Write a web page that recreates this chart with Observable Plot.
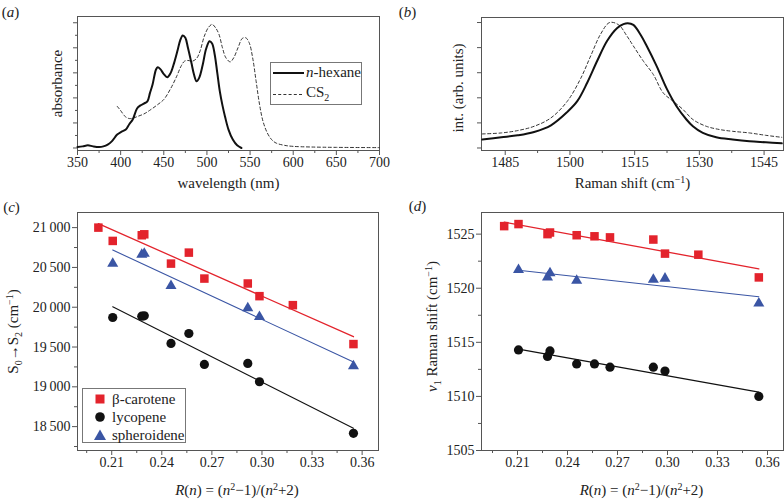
<!DOCTYPE html>
<html><head><meta charset="utf-8">
<script src="https://cdn.jsdelivr.net/npm/d3@7"></script>
<script src="https://cdn.jsdelivr.net/npm/@observablehq/plot@0.6"></script>
<style>
body{margin:0;background:#fff;}
#wrap{position:relative;width:784px;height:499px;font-family:"Liberation Serif","Times New Roman",serif;color:#222;overflow:hidden;background:#fff}
#wrap svg{position:absolute}
.legend{position:absolute;border:1px solid #777;background:#fff;font-size:15px;box-sizing:border-box}
.legend span{position:absolute;white-space:nowrap;line-height:15px}
</style></head><body><div id="wrap"></div>
<script>
// ---------- (a) absorption spectra ----------
const hexaneNm  = [350,356,362,368,375,380,385,390,396,401,406,410,414,419,423,427,431,434,437,441,443,446,450,454,458,462,466,469,472,475,478,482,485,488,491,495,499,503,506,509,512,515,518,521,525,530,535,540];
const hexaneAbs = [0.008,0.013,0.021,0.013,0.008,0.013,0.027,0.055,0.107,0.13,0.147,0.19,0.227,0.315,0.34,0.355,0.373,0.44,0.507,0.627,0.645,0.63,0.59,0.565,0.6,0.68,0.78,0.86,0.899,0.88,0.8,0.68,0.587,0.533,0.56,0.66,0.79,0.853,0.835,0.747,0.6,0.45,0.34,0.25,0.147,0.067,0.021,0.0];
const cs2Nm  = [396,400,405,410,415,420,427,435,443,450,458,465,470,474,478,483,488,492,497,502,506,510,514,518,522,527,531,536,541,545,549,553,557,561,565,570,575,580,590,600,620,650,700];
const cs2Abs = [0.333,0.299,0.253,0.235,0.24,0.253,0.272,0.307,0.347,0.387,0.475,0.573,0.653,0.693,0.699,0.693,0.715,0.773,0.893,0.965,0.987,0.96,0.907,0.8,0.72,0.688,0.72,0.8,0.875,0.88,0.84,0.72,0.533,0.347,0.213,0.12,0.067,0.04,0.021,0.013,0.008,0.005,0.003];
const wlTicks = [350,400,450,500,550,600,650,700];
const wlMinor = [375,425,475,525,575,625,675];
const absTicks = [0,0.2,0.4,0.6,0.8,1.0];
const absMinor = [0.1,0.3,0.5,0.7,0.9];
const solventNames = ["n-hexane","CS2"];

// ---------- (b) Raman spectra ----------
const ramanCm1  = [1479.7,1484.1,1487.9,1491.7,1495.6,1499.4,1501.7,1504.0,1506.3,1508.6,1510.9,1512.4,1513.4,1514.7,1516.3,1517.8,1520.1,1522.4,1524.7,1527.0,1528.5,1530.8,1533.9,1537.7,1541.6,1545.4,1549.1];
const ramanHex  = [0.067,0.085,0.101,0.128,0.181,0.288,0.373,0.52,0.693,0.853,0.955,0.987,0.995,0.981,0.907,0.813,0.653,0.475,0.333,0.227,0.173,0.12,0.085,0.067,0.053,0.045,0.037];
const ramanCm2  = [1479.7,1484.1,1487.9,1491.7,1495.6,1499.4,1502.5,1504.8,1507.1,1509.2,1511.3,1513.2,1514.7,1517.0,1519.3,1521.6,1523.9,1526.2,1528.5,1531.6,1534.7,1537.7,1541.6,1545.4,1549.1];
const ramanCS2  = [0.112,0.12,0.139,0.173,0.24,0.373,0.555,0.733,0.907,1.0,0.981,0.893,0.813,0.693,0.587,0.44,0.373,0.307,0.227,0.173,0.147,0.133,0.12,0.101,0.085];
const shiftTicks = [1485,1500,1515,1530,1545];
const shiftMinor = [1492.5,1507.5,1522.5,1537.5];
const intTicks = [0,0.2,0.4,0.6,0.8,1.0];

// ---------- (c),(d) solvent dependence ----------
const carotenoids = ["β-carotene","lycopene","spheroidene"];
const rBeta     = [0.202,0.2106,0.228,0.2295,0.2455,0.2562,0.2655,0.2915,0.2985,0.3185,0.3548];
const s02Beta   = [21000,20833,20904,20916,20548,20686,20360,20298,20139,20026,19537];
const nu1Beta   = [1525.74,1525.93,1525.0,1525.15,1524.9,1524.8,1524.7,1524.5,1523.2,1523.1,1521.0];
const rLyco     = [0.2106,0.228,0.2295,0.2455,0.2562,0.2655,0.2915,0.2985,0.3548];
const s02Lyco   = [19871,19888,19892,19545,19670,19281,19294,19064,18416];
const nu1Lyco   = [1514.3,1513.7,1514.2,1513.0,1513.0,1512.7,1512.7,1512.35,1510.0];
const rSpher    = [0.2106,0.228,0.2295,0.2455,0.2915,0.2985,0.3548];
const s02Spher  = [20548,20661,20674,20268,19990,19880,19260];
const nu1Spher  = [1521.7,1521.0,1521.4,1520.7,1520.8,1520.9,1518.6];
const rTicks = [0.21,0.24,0.27,0.30,0.33,0.36];
const rMinor = [0.195,0.225,0.255,0.285,0.315,0.345];
const s02Ticks = [18500,19000,19500,20000,20500,21000];
const s02Minor = [18250,18750,19250,19750,20250,20750];
const nu1Ticks = [1505,1510,1515,1520,1525];
const nu1Minor = [1507.5,1512.5,1517.5,1522.5];

// ---------- styling ----------
const FONT = "'Liberation Serif', 'Times New Roman', serif";
const INK = "#222", AXIS = "#555";
const RED = "#e3232c", BLUE = "#3a55a4", BLACK = "#111";
const TICKFONT = 14;
const wrap = document.getElementById("wrap");

function axes(xMaj, xMin, yMaj, yMin, xFmt, yFmt) {
  const m = [
    Plot.axisX(xMaj, {anchor: "bottom", tickSize: 5, tickPadding: 2, tickFormat: xFmt, label: null, fontSize: TICKFONT, stroke: AXIS, fill: INK}),
    Plot.axisX(xMin, {anchor: "bottom", tickSize: 3, fill: "none", label: null, stroke: AXIS}),
    yFmt
      ? Plot.axisY(yMaj, {anchor: "left", tickSize: 5, tickPadding: 2, tickFormat: yFmt, label: null, fontSize: TICKFONT, stroke: AXIS, fill: INK})
      : Plot.axisY(yMaj, {anchor: "left", tickSize: 4, fill: "none", label: null, stroke: AXIS})
  ];
  if (yMin) m.push(Plot.axisY(yMin, {anchor: "left", tickSize: yFmt ? 3 : 2, fill: "none", label: null, stroke: AXIS}));
  m.push(Plot.frame({stroke: AXIS, strokeWidth: 1}));
  return m;
}
function title(str, opts) {
  return Plot.text([str], {text: d => d, fontSize: 15, fill: INK, textAnchor: "middle", lineAnchor: "middle", ...opts});
}
function place(svg, left, top) {
  svg.style.left = left + "px"; svg.style.top = top + "px";
  wrap.appendChild(svg);
}
function rich(svg, plain, html) {
  for (const t of svg.querySelectorAll("text")) {
    if (t.textContent === plain) t.innerHTML = html;
  }
}
const sup = s => `<tspan dy="-5" font-size="10">${s}</tspan>`;
const sub = s => `<tspan dy="4" font-size="10">${s}</tspan>`;
const styleObj = {fontFamily: FONT, fontSize: "15px", color: INK, background: "transparent", overflow: "visible"};
const intFmt = d3.format("d");

// ---------- panel (a) ----------
const hexData = hexaneNm.map((x, i) => ({x, y: hexaneAbs[i]}));
const cs2Data = cs2Nm.map((x, i) => ({x, y: cs2Abs[i]}));
const pa = Plot.plot({
  width: 392, height: 195, marginLeft: 77, marginRight: 13, marginTop: 16, marginBottom: 45,
  style: styleObj,
  x: {domain: [350, 700]}, y: {domain: [-0.02, 1.05]},
  marks: [
    ...axes(wlTicks, wlMinor, absTicks, absMinor, intFmt, null),
    Plot.line(cs2Data, {x: "x", y: "y", stroke: "#333", strokeWidth: 1, strokeDasharray: "3,2.5", curve: "catmull-rom"}),
    Plot.line(hexData, {x: "x", y: "y", stroke: BLACK, strokeWidth: 2, curve: "catmull-rom"}),
    title("wavelength (nm)", {frameAnchor: "bottom", dy: 33}),
    title("absorbance", {frameAnchor: "left", dx: -20, rotate: -90}),
    title("(a)", {frameAnchor: "top-left", dx: -67, dy: -4})
  ]
});
rich(pa, "(a)", `(<tspan font-style="italic">a</tspan>)`);
place(pa, 0, 0);

// ---------- panel (b) ----------
const rHex = ramanCm1.map((x, i) => ({x, y: ramanHex[i]}));
const rCS2 = ramanCm2.map((x, i) => ({x, y: ramanCS2[i]}));
const pb = Plot.plot({
  width: 392, height: 195, marginLeft: 89, marginRight: 1, marginTop: 17, marginBottom: 45,
  style: styleObj,
  x: {domain: [1479.5, 1549.5]}, y: {domain: [-0.02, 1.04]},
  marks: [
    ...axes(shiftTicks, shiftMinor, intTicks, null, intFmt, null),
    Plot.line(rCS2, {x: "x", y: "y", stroke: "#333", strokeWidth: 1, strokeDasharray: "3,2.5", curve: "catmull-rom"}),
    Plot.line(rHex, {x: "x", y: "y", stroke: BLACK, strokeWidth: 2, curve: "catmull-rom"}),
    title("Raman shift (cm−1)", {frameAnchor: "bottom", dy: 33}),
    title("int. (arb. units)", {frameAnchor: "left", dx: -23, dy: 4, rotate: -90}),
    title("(b)", {frameAnchor: "top-left", dx: -74, dy: -5})
  ]
});
rich(pb, "(b)", `(<tspan font-style="italic">b</tspan>)`);
rich(pb, "Raman shift (cm−1)", `Raman shift (cm${sup("−1")}<tspan dy="5">)</tspan>`);
place(pb, 392, 0);

// ---------- panel (c) & (d) ----------
const thou = d => d3.format(",")(d).replace(",", "\u2009");
function series(rs, vs, name) { return rs.map((r, i) => ({r, v: vs[i], name})); }
function scatterMarks(beta, lyco, spher) {
  return [
    Plot.linearRegressionY(lyco, {x: "r", y: "v", stroke: BLACK, strokeWidth: 1.1, ci: 0}),
    Plot.linearRegressionY(spher, {x: "r", y: "v", stroke: BLUE, strokeWidth: 1.1, ci: 0}),
    Plot.linearRegressionY(beta, {x: "r", y: "v", stroke: RED, strokeWidth: 1.3, ci: 0}),
    Plot.dot(lyco, {x: "r", y: "v", symbol: "circle", r: 4.6, fill: BLACK, stroke: "none"}),
    Plot.dot(spher, {x: "r", y: "v", symbol: "triangle", r: 4.1, fill: BLUE, stroke: "none"}),
    Plot.dot(beta, {x: "r", y: "v", symbol: "square", r: 4.8, fill: RED, stroke: "none"})
  ];
}
const rLabel = "R(n) = (n2−1)/(n2+2)";
const rHtml = `<tspan font-style="italic">R</tspan>(<tspan font-style="italic">n</tspan>) = (<tspan font-style="italic">n</tspan>${sup("2")}<tspan dy="5">−1)/(</tspan><tspan font-style="italic">n</tspan>${sup("2")}<tspan dy="5">+2)</tspan>`;

const pc = Plot.plot({
  width: 392, height: 304, marginLeft: 77, marginRight: 14, marginTop: 17, marginBottom: 49,
  style: styleObj,
  x: {domain: [0.1895, 0.3698]}, y: {domain: [18200, 21190]},
  marks: [
    ...axes(rTicks, rMinor, s02Ticks, s02Minor, d3.format(".2f"), thou),
    ...scatterMarks(series(rBeta, s02Beta, carotenoids[0]), series(rLyco, s02Lyco, carotenoids[1]), series(rSpher, s02Spher, carotenoids[2])),
    title(rLabel, {frameAnchor: "bottom", dy: 40, dx: 9}),
    title("S0→S2 (cm−1)", {frameAnchor: "left", dx: -64, rotate: -90}),
    title("(c)", {frameAnchor: "top-left", dx: -66, dy: -5})
  ]
});
rich(pc, "(c)", `(<tspan font-style="italic">c</tspan>)`);
rich(pc, rLabel, rHtml);
rich(pc, "S0→S2 (cm−1)", `S${sub("0")}<tspan dy="-4">→S</tspan>${sub("2")}<tspan dy="-4"> (cm</tspan>${sup("−1")}<tspan dy="5">)</tspan>`);
place(pc, 0, 195);

const pd = Plot.plot({
  width: 392, height: 304, marginLeft: 89, marginRight: 1, marginTop: 17, marginBottom: 49,
  style: styleObj,
  x: {domain: [0.1884, 0.3696]}, y: {domain: [1505, 1527]},
  marks: [
    ...axes(rTicks, rMinor, nu1Ticks, nu1Minor, d3.format(".2f"), intFmt),
    ...scatterMarks(series(rBeta, nu1Beta, carotenoids[0]), series(rLyco, nu1Lyco, carotenoids[1]), series(rSpher, nu1Spher, carotenoids[2])),
    title(rLabel, {frameAnchor: "bottom", dy: 40, dx: 9}),
    title("ν1 Raman shift (cm−1)", {frameAnchor: "left", dx: -49, dy: -5, rotate: -90}),
    title("(d)", {frameAnchor: "top-left", dx: -64, dy: -6})
  ]
});
rich(pd, "(d)", `(<tspan font-style="italic">d</tspan>)`);
rich(pd, rLabel, rHtml);
rich(pd, "ν1 Raman shift (cm−1)", `<tspan font-style="italic">ν</tspan>${sub("1")}<tspan dy="-4"> Raman shift (cm</tspan>${sup("−1")}<tspan dy="5">)</tspan>`);
place(pd, 392, 195);

// ---------- legends (HTML) ----------
const la = document.createElement("div");
la.className = "legend";
Object.assign(la.style, {left: "270px", top: "62px", width: "92px", height: "43px"});
la.innerHTML =
  `<div style="position:absolute;left:2px;top:9px;width:31px;border-top:2px solid ${BLACK}"></div>` +
  `<span style="left:35px;top:2px"><i>n</i>${solventNames[0].slice(1)}</span>` +
  `<div style="position:absolute;left:2px;top:31px;width:29px;border-top:1px dashed #333"></div>` +
  `<span style="left:35px;top:22px">CS<sub style="font-size:10px;line-height:0">2</sub></span>`;
wrap.appendChild(la);

const lc = document.createElement("div");
lc.className = "legend";
Object.assign(lc.style, {left: "82px", top: "388px", width: "104px", height: "55px"});
const sym = {
  [carotenoids[0]]: `<svg width="12" height="12" style="position:absolute;left:11px;top:4px"><rect x="1.5" y="1.5" width="9" height="9" fill="${RED}"/></svg>`,
  [carotenoids[1]]: `<svg width="12" height="12" style="position:absolute;left:11px;top:22px"><circle cx="6" cy="6" r="4.8" fill="${BLACK}"/></svg>`,
  [carotenoids[2]]: `<svg width="14" height="12" style="position:absolute;left:10px;top:40px"><path d="M7,0.5L13,11H1Z" fill="${BLUE}"/></svg>`
};
lc.innerHTML = carotenoids.map((c, i) =>
  sym[c] + `<span style="left:29px;top:${3 + i * 18}px">${c}</span>`).join("");
wrap.appendChild(lc);
</script>
</body></html>
